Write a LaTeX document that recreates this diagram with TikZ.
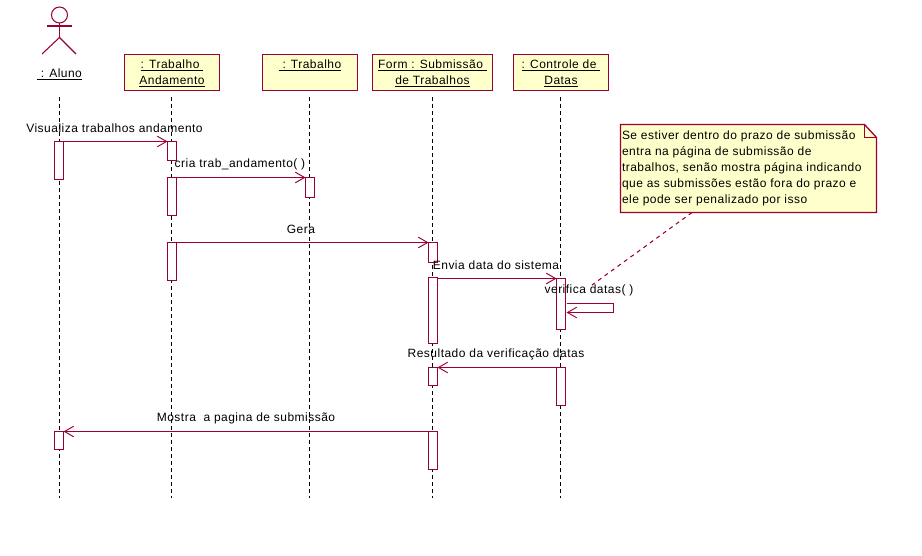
\documentclass[tikz,border=0pt]{standalone}
\usepackage{fontspec}
\setmainfont[LetterSpace=4]{Liberation Sans}
\usetikzlibrary{arrows.meta,calc}
\definecolor{umlline}{RGB}{153,0,51}
\definecolor{umlfill}{RGB}{255,255,204}
\newcommand{\ulabel}[1]{\strut\raisebox{-0.75pt}{\underline{\smash{#1}}}}
\newcommand{\activation}[4]{\node[actbox,minimum height=#4*0.75pt-#3*0.75pt,anchor=north] (#1) at (#2,#3+0.5) {};}
\tikzset{
  x=0.75pt,y=-0.75pt,
  every node/.style={font=\fontsize{9}{12}\selectfont,text=black,inner sep=0pt,outer sep=0pt},
  objbox/.style={draw=umlline,fill=umlfill,line width=0.95pt,align=center,minimum height=27pt},
  actbox/.style={draw=umlline,fill=white,line width=0.95pt,minimum width=6.75pt},
  lifeline/.style={black,line width=0.8pt,dash pattern=on 3pt off 2.25pt},
  msg/.style={umlline,line width=0.95pt,-{Straight Barb[length=7pt,width=8pt,line width=0.7pt]}},
  actorline/.style={umlline,line width=0.8pt},
  notelink/.style={umlline,line width=0.8pt,dash pattern=on 3pt off 3pt},
}
\begin{document}
\begin{tikzpicture}
\useasboundingbox[fill=white] (0,0) rectangle (922,556);
% actor
\draw[actorline] (59.5,15) circle (6pt);
\draw[actorline] (59.5,23) -- (59.5,37.5);
\draw[actorline] (47,26) -- (72,26);
\draw[actorline] (42,54) -- (59.5,37.5) -- (76,54);
\node (aluno) at (59.5,73.5) {\ulabel{\ : Aluno}};
% objects
\node[objbox,minimum width=71.25pt] (o1) at (172,72.5) {\ulabel{: Trabalho\ }\\\ulabel{Andamento}};
\node[objbox,minimum width=71.25pt] (o2) at (310,72.5) {\ulabel{\ : Trabalho}\\\strut};
\node[objbox,minimum width=90pt] (o3) at (432.5,72.5) {\ulabel{Form : Submiss\~ao\ }\\\ulabel{de Trabalhos}};
\node[objbox,minimum width=71.25pt] (o4) at (561,72.5) {\ulabel{: Controle de\ }\\\ulabel{Datas}};
% lifelines
\foreach \n/\x in {a/59.5,b/171.5,c/309.5,d/432.5,e/560.5}{
  \coordinate (\n top) at (\x,97);
  \coordinate (\n bot) at (\x,498);
  \draw[lifeline] (\n top) -- (\n bot);
}
% activations
\activation{a1}{59}{141}{179}
\activation{a2}{59}{431}{449}
\activation{b1}{172}{141}{160}
\activation{b2}{172}{177}{215}
\activation{b3}{172}{242}{280}
\activation{c1}{310}{177}{197}
\activation{d1}{433}{242}{262}
\activation{d2}{433}{277}{343}
\activation{d3}{433}{367}{385}
\activation{d4}{433}{431}{469}
\activation{e1}{561}{278}{329}
\activation{e2}{561}{367}{405}
% messages
\draw[msg] (a1.north east) -- (b1.north west);
\draw[msg] (b2.north east) -- (c1.north west);
\draw[msg] (b3.north east) -- (d1.north west);
\draw[msg] (e1.north west -| d2.north east) -- (e1.north west);
\draw[msg] ($(e1.north east)+(1,25)$) -- ++(47,0) -- ++(0,9) -- ($(e1.north east)+(1,34)$);
\draw[msg] (e2.north west) -- (d3.north east);
\draw[msg] (d4.north west) -- (a2.north east);
% labels
\node (m1) at (114.5,128) {Visualiza trabalhos andamento};
\node (m2) at (240,164.5) {cria trab\_andamento( )};
\node (m3) at (301,229) {Gera};
\node (m4) at (496,265) {Envia data do sistema};
\node (m5) at (589,290.5) {verifica datas( )};
\node (m6) at (496,354) {Resultado da verifica\c{c}\~ao datas};
\node (m7) at (246,418) {Mostra\ \ a pagina de submiss\~ao};
% note
\coordinate (nw) at (620.5,124.5);
\coordinate (nf) at (864.5,124.5);
\coordinate (nc) at (876.5,137.5);
\coordinate (ne) at (876.5,212.5);
\coordinate (ns) at (620.5,212.5);
\coordinate (nl) at (692,212.5);
\coordinate (nt) at (592,285);
\draw[notelink] (nl) -- (nt);
\filldraw[draw=umlline,fill=umlfill,line width=0.95pt] (nw) -- (nf) -- (nc) -- (ne) -- (ns) -- cycle;
\draw[umlline,line width=0.95pt] (nf) -- (864.5,137.5) -- (nc);
\node[anchor=north west,align=left] (note) at (622,130.5) {Se estiver dentro do prazo de submiss\~ao\\entra na p\'agina de submiss\~ao de\\trabalhos, sen\~ao mostra p\'agina indicando\\que as submiss\~oes est\~ao fora do prazo e\\ele pode ser penalizado por isso};
\end{tikzpicture}
\end{document}
